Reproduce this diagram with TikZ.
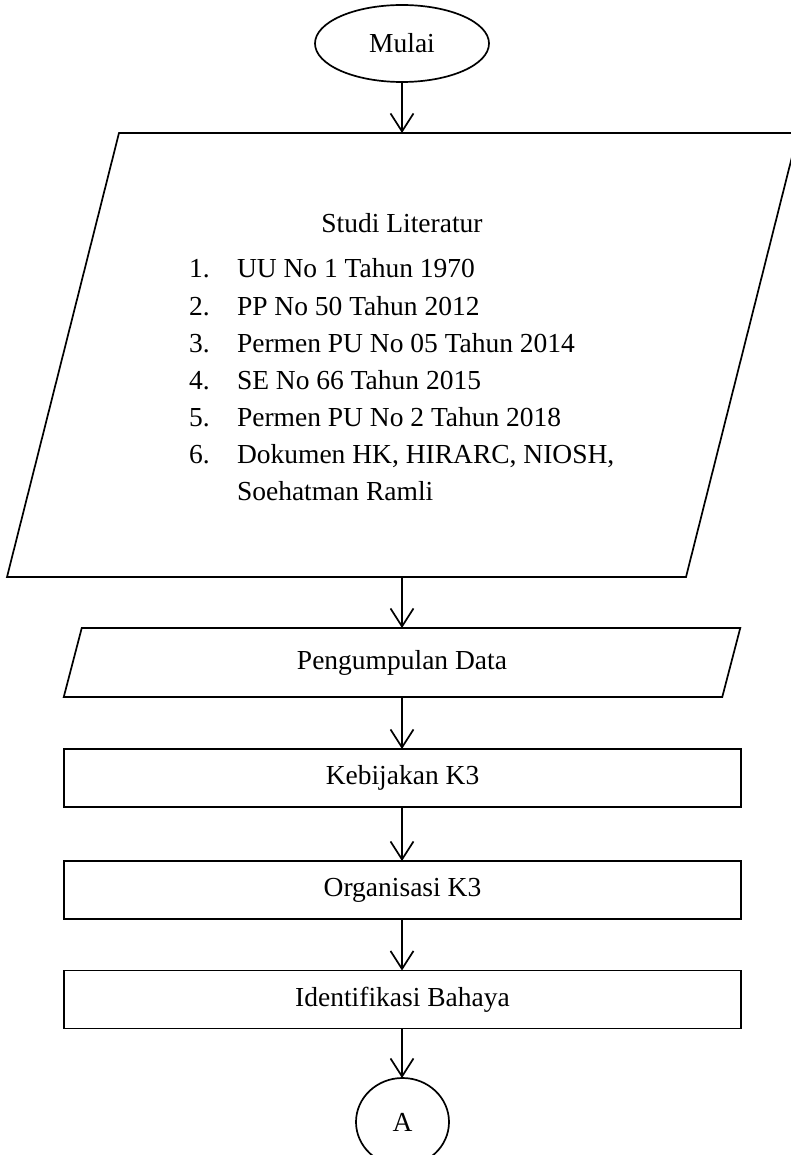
\documentclass[tikz,border=0pt]{standalone}
\usepackage{fontspec}
\setmainfont{Liberation Serif}
\usetikzlibrary{shapes.geometric,arrows.meta,calc}
\tikzset{
  ln/.style={line width=1.7pt},
  arr/.style={ln, -{Straight Barb[length=18pt,width=23pt,line width=1.7pt]}},
  txt/.style={font=\fontsize{27.5}{33}\selectfont, inner sep=0pt, outer sep=0pt},
  frame/.style={draw=none, rectangle, inner sep=0pt, outer sep=0pt},
  procbox/.style={draw, ln, rectangle, minimum width=677pt, minimum height=58pt, inner sep=0pt, outer sep=0pt, font=\fontsize{27.5}{33}\selectfont},
  term/.style={draw, ln, ellipse, inner sep=0pt, outer sep=0pt, font=\fontsize{27.5}{33}\selectfont}
}
\begin{document}
\begin{tikzpicture}[x=1pt,y=-1pt]
\useasboundingbox (0,0) rectangle (791,1155);
\clip (0,0) rectangle (791,1155);
\fill[white] (0,0) rectangle (791,1155);

% Mulai
\node[term, minimum width=174pt, minimum height=77pt] (mulai) at (402,43.5) {Mulai};

% Studi literatur parallelogram
\node[frame, minimum width=679pt, minimum height=444pt] (lit) at (402.5,355) {};
\draw[ln, line join=miter] ($(lit.north west)+(56,0)$) -- ($(lit.north east)+(56,0)$)
  -- ($(lit.south east)+(-56,0)$) -- ($(lit.south west)+(-56,0)$) -- cycle;
\node[txt, anchor=base] (title) at (402,233) {Studi Literatur};
\foreach \i/\t [count=\k] in {1/UU No 1 Tahun 1970, 2/PP No 50 Tahun 2012, 3/Permen PU No 05 Tahun 2014, 4/SE No 66 Tahun 2015, 5/Permen PU No 2 Tahun 2018, 6/{Dokumen HK, HIRARC, NIOSH,}}{
  \node[txt, anchor=base west] (num\k) at (189,{278+37*(\k-1)}) {\i.};
  \node[txt, anchor=base west] (item\k) at (237,{278+37*(\k-1)}) {\t};
}
\node[txt, anchor=base west] (item7) at (237,463+37) {Soehatman Ramli};

% Pengumpulan Data parallelogram
\node[frame, minimum width=658.5pt, minimum height=69pt, font=\fontsize{27.5}{33}\selectfont] (pd) at (402,662.5) {Pengumpulan Data};
\draw[ln, line join=miter] ($(pd.north west)+(9,0)$) -- ($(pd.north east)+(9,0)$)
  -- ($(pd.south east)+(-9,0)$) -- ($(pd.south west)+(-9,0)$) -- cycle;

% Process boxes
\node[procbox] (keb) at (402.5,778) {Kebijakan K3};
\node[procbox] (org) at (402.5,890) {Organisasi K3};
\node[procbox] (ide) at (402.5,999.5) {Identifikasi Bahaya};

% Connector A
\node[term, minimum width=93pt, minimum height=88pt] (A) at (402.5,1122) {A};

% Arrows
\draw[arr] (mulai.south) -- (mulai.south |- lit.north);
\draw[arr] (lit.south -| mulai.south) -- (pd.north -| mulai.south);
\draw[arr] (pd.south -| mulai.south) -- (keb.north -| mulai.south);
\draw[arr] (keb.south -| mulai.south) -- (org.north -| mulai.south);
\draw[arr] (org.south -| mulai.south) -- (ide.north -| mulai.south);
\draw[arr] (ide.south -| mulai.south) -- (A.north -| mulai.south);
\end{tikzpicture}
\end{document}
